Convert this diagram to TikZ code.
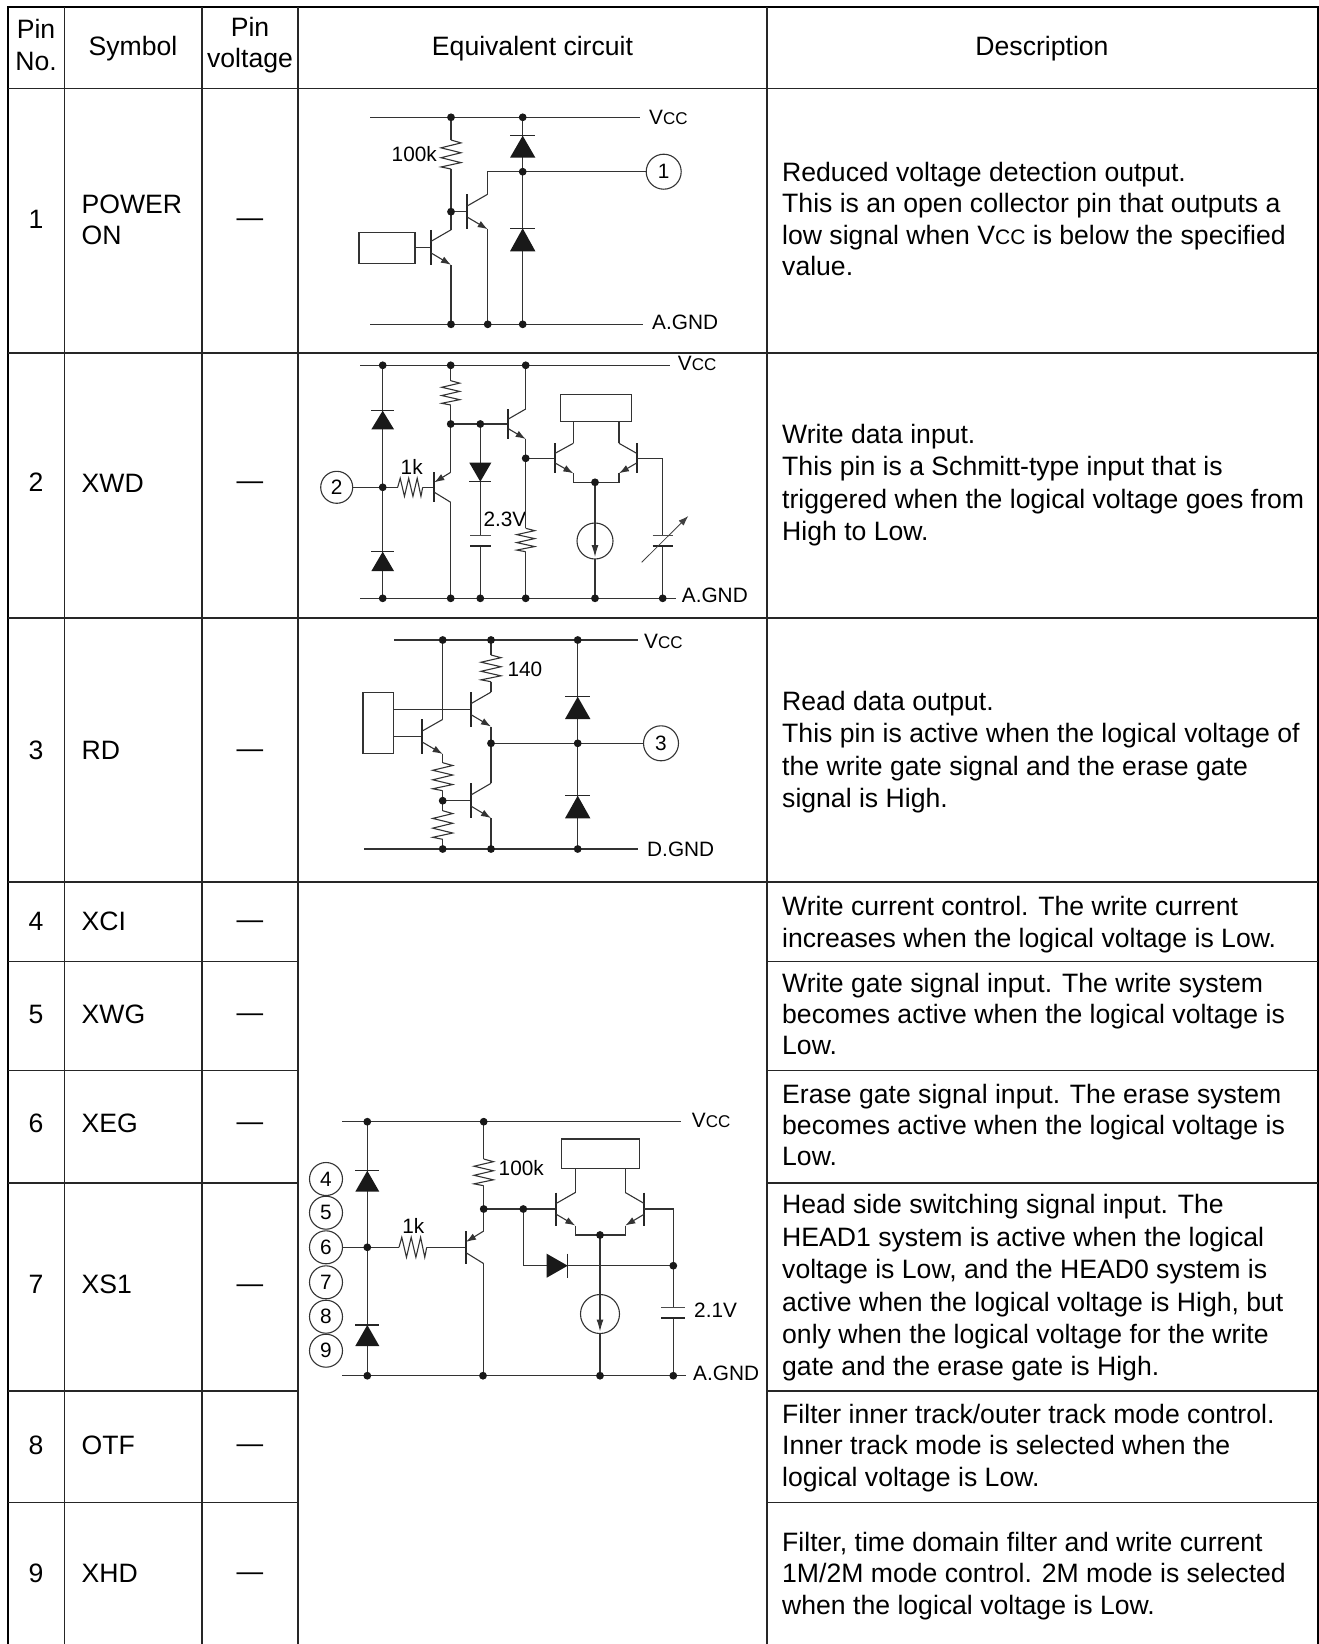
\documentclass[tikz,border=0pt]{standalone}
\usepackage{fontspec}
\setmainfont{Liberation Sans}
\usetikzlibrary{arrows.meta}
\tikzset{
  rule/.style={line width=1.3pt,color=black!85},
  frame/.style={line width=2.6pt,color=black},
  wire/.style={line width=1.1pt,color=black!80},
  txt/.style={inner sep=0pt,font=\fontsize{26.6}{31.4}\selectfont},
  dashcell/.style={txt,yshift=-4pt},
  lbl/.style={inner sep=0pt,anchor=west,font=\fontsize{20.8}{25}\selectfont},
  desc/.style={txt,anchor=west,align=left},
  wide/.style={font=\fontsize{26.6}{32.4}\selectfont},
  pincirc/.style={draw,circle,line width=1.1pt,color=black!80,text=black,inner sep=0pt,minimum size=34pt,font=\fontsize{20.8}{25}\selectfont},
}
\newcommand{\vcc}{V{\fontsize{17}{17}\selectfont CC}}
\newcommand{\vcct}{V{\fontsize{21}{21}\selectfont CC}}
\newcommand{\jn}[2]{\fill[black!90] (#1,#2) circle[radius=3.9];}
% bar x, base y, lead width (signed), half height
\newcommand{\npn}[4]{
\draw[line width=1.8pt,black!85] (#1,{#2-#4}) -- (#1,{#2+#4});
\draw[wire] (#1,{#2-.33*#4}) -- ({#1+#3},{#2-#4});
\draw[wire,-{Latex[length=10pt,width=7pt]}] (#1,{#2+.31*#4}) -- ({#1+#3},{#2+#4});
}
\newcommand{\pnp}[4]{
\draw[line width=1.8pt,black!85] (#1,{#2-#4}) -- (#1,{#2+#4});
\draw[wire,{Latex[length=10pt,width=7pt]}-] (#1,{#2-.33*#4}) -- ({#1+#3},{#2-#4});
\draw[wire] (#1,{#2+.33*#4}) -- ({#1+#3},{#2+#4});
}
% x, y from, y to, half width
\newcommand{\resv}[4]{
\draw[wire] (#1,#2) -- ({#1+#4},{#2+.1*(#3-#2)}) -- ({#1-#4},{#2+.27*(#3-#2)})
  -- ({#1+#4},{#2+.44*(#3-#2)}) -- ({#1-#4},{#2+.61*(#3-#2)})
  -- ({#1+#4},{#2+.78*(#3-#2)}) -- ({#1-#4},{#2+.93*(#3-#2)}) -- (#1,#3);
}
% x from, x to, y, half width
\newcommand{\resh}[4]{
\draw[wire] (#1,#3) -- ({#1+.1*(#2-#1)},{#3-#4}) -- ({#1+.27*(#2-#1)},{#3+#4})
  -- ({#1+.44*(#2-#1)},{#3-#4}) -- ({#1+.61*(#2-#1)},{#3+#4})
  -- ({#1+.78*(#2-#1)},{#3-#4}) -- ({#1+.93*(#2-#1)},{#3+#4}) -- (#2,#3);
}
% x, y of bar, y of base, half width
\newcommand{\diode}[4]{
\fill[black!90] ({#1-#4},#3) -- ({#1+#4},#3) -- (#1,#2) -- cycle;
\draw[line width=1.3pt,black!85] ({#1-#4},#2) -- ({#1+#4},#2);
}
\newcommand{\capac}[4]{
\draw[line width=.8pt,black!70] ({#1-#4},#2) -- ({#1+#4},#2);
\draw[line width=1.8pt,black!85] ({#1-#4},#3) -- ({#1+#4},#3);
}
\newcommand{\isrc}[3]{
\draw[wire] (#1,#2) circle[radius=#3];
\draw[wire,-{Latex[length=12pt,width=7pt]}] (#1,{#2-#3}) -- (#1,{#2+#3-2});
}
\begin{document}
\begin{tikzpicture}[x=1pt,y=-1pt]
\useasboundingbox (0,0) rectangle (1319,1644);
% table rules
\draw[frame] (8,1644) -- (8,7) -- (1318,7) -- (1318,1644);
\draw[rule] (64.5,7) -- (64.5,1644) (202,7) -- (202,1644) (298,7) -- (298,1644) (767,7) -- (767,1644);
\draw[rule] (8,88.5) -- (1318,88.5) (8,353) -- (1318,353) (8,618) -- (1318,618) (8,882) -- (1318,882);
\draw[rule] (8,961.5) -- (298,961.5) (767,961.5) -- (1318,961.5);
\draw[rule] (8,1070.5) -- (298,1070.5) (767,1070.5) -- (1318,1070.5);
\draw[rule] (8,1183) -- (298,1183) (767,1183) -- (1318,1183);
\draw[rule] (8,1391) -- (298,1391) (767,1391) -- (1318,1391);
\draw[rule] (8,1502.5) -- (298,1502.5) (767,1502.5) -- (1318,1502.5);
% header
\node[txt,align=center] (hpin) at (36,45) {Pin\\No.};
\node[txt] (hsym) at (133,49) {Symbol};
\node[txt,align=center] (hvolt) at (250,45) {Pin\\voltage};
\node[txt] (hcirc) at (532.5,49) {Equivalent circuit};
\node[txt] (hdesc) at (1042,49) {Description};
% pin numbers
\node[txt] (pin1) at (36,219) {1};
\node[txt] (pin2) at (36,482) {2};
\node[txt] (pin3) at (36,750) {3};
\node[txt] (pin4) at (36,921) {4};
\node[txt] (pin5) at (36,1014) {5};
\node[txt] (pin6) at (36,1123) {6};
\node[txt] (pin7) at (36,1284.5) {7};
\node[txt] (pin8) at (36,1445) {8};
\node[txt] (pin9) at (36,1573) {9};
% symbols
\node[desc] (sym1) at (81.5,220) {POWER\\ON};
\node[desc] (sym2) at (81.5,483) {XWD};
\node[desc] (sym3) at (81.5,750) {RD};
\node[desc] (sym4) at (81.5,921) {XCI};
\node[desc] (sym5) at (81.5,1014) {XWG};
\node[desc] (sym6) at (81.5,1123) {XEG};
\node[desc] (sym7) at (81.5,1284.5) {XS1};
\node[desc] (sym8) at (81.5,1445) {OTF};
\node[desc] (sym9) at (81.5,1573) {XHD};
% pin voltage
\node[dashcell] (volt1) at (250,219) {—};
\node[dashcell] (volt2) at (250,482) {—};
\node[dashcell] (volt3) at (250,750) {—};
\node[dashcell] (volt4) at (250,921) {—};
\node[dashcell] (volt5) at (250,1014) {—};
\node[dashcell] (volt6) at (250,1123) {—};
\node[dashcell] (volt7) at (250,1284.5) {—};
\node[dashcell] (volt8) at (250,1445) {—};
\node[dashcell] (volt9) at (250,1573) {—};
% descriptions
\node[desc] (desc1) at (782,219) {Reduced voltage detection output.\\This is an open collector pin that outputs a\\low signal when \vcct{} is below the specified\\value.};
\node[desc,wide] (desc2) at (782,485) {Write data input.\\This pin is a Schmitt-type input that is\\triggered when the logical voltage goes from\\High to Low.};
\node[desc,wide] (desc3) at (782,752) {Read data output.\\This pin is active when the logical voltage of\\the write gate signal and the erase gate\\signal is High.};
\node[desc] (desc4) at (782,924.5) {Write current control. The write current\\increases when the logical voltage is Low.};
\node[desc] (desc5) at (782,1014) {Write gate signal input. The write system\\becomes active when the logical voltage is\\Low.};
\node[desc] (desc6) at (782,1125) {Erase gate signal input. The erase system\\becomes active when the logical voltage is\\Low.};
\node[desc,wide] (desc7) at (782,1288) {Head side switching signal input. The\\HEAD1 system is active when the logical\\voltage is Low, and the HEAD0 system is\\active when the logical voltage is High, but\\only when the logical voltage for the write\\gate and the erase gate is High.};
\node[desc] (desc8) at (782,1448) {Filter inner track/outer track mode control.\\Inner track mode is selected when the\\logical voltage is Low.};
\node[desc] (desc9) at (782,1576) {Filter, time domain filter and write current\\1M/2M mode control. 2M mode is selected\\when the logical voltage is Low.};

% circuit pin 1
\node[pincirc,minimum size=35pt] (c1out) at (663.7,171.7) {1};
\node[lbl] (c1vcc) at (649,117) {\vcc};
\node[lbl] (c1gnd) at (652,322) {A.GND};
\node[lbl,anchor=east] (c1r) at (437,154) {100k};
\draw[wire] (370,117.3) -- (640,117.3) (370,324.3) -- (642.7,324.3);
\draw[wire] (359,232.7) rectangle (415,263.3);
\draw[wire] (415,247.3) -- (430.7,247.3);
\draw[wire] (451,117.3) -- (451,140) (451,169) -- (451,230) (451,265) -- (451,324.3);
\resv{451}{140}{169}{10}
\npn{430.7}{247.3}{20.3}{17.5}
\draw[wire] (451,211.7) -- (467.3,211.7);
\npn{467.3}{211.7}{20.4}{17.5}
\draw[wire] (487.7,194.2) -- (487.7,171.7) -- (c1out);
\draw[wire] (487.7,229.2) -- (487.7,324.3);
\draw[wire] (522.7,117.3) -- (522.7,324.3);
\diode{522.7}{135.7}{157.7}{12.7}
\diode{522.7}{228.3}{251.3}{12.7}
\jn{451}{117.3} \jn{522.7}{117.3} \jn{522.7}{171.7} \jn{451}{211.7}
\jn{451}{324.3} \jn{487.7}{324.3} \jn{522.7}{324.3}

% circuit pin 2
\node[pincirc,minimum size=32pt] (c2in) at (336.7,487.3) {2};
\node[lbl] (c2vcc) at (677.7,363) {\vcc};
\node[lbl] (c2gnd) at (681.7,595) {A.GND};
\node[lbl,anchor=center] (c2r) at (411.7,467) {1k};
\node[lbl] (c2v) at (483.3,519) {2.3V};
\draw[wire] (360,365.3) -- (670,365.3) (360,598.3) -- (676,598.3);
\draw[wire] (382.7,365.3) -- (382.7,598.3);
\diode{382.7}{410.7}{429.3}{11.3}
\diode{382.7}{551.7}{571}{11.3}
\draw[wire] (c2in) -- (397.7,487.3) (422.7,487.3) -- (434.3,487.3);
\resh{397.7}{422.7}{487.3}{9}
\pnp{434.3}{487.3}{16.4}{15}
\draw[wire] (450.7,365.3) -- (450.7,380.7) (450.7,405) -- (450.7,472.3) (450.7,502.3) -- (450.7,598.3);
\resv{450.7}{380.7}{405}{9}
\draw[wire] (450.7,424) -- (508.3,424);
\draw[wire] (480.3,424) -- (480.3,535.7) (480.3,545.7) -- (480.3,598.3);
\diode{480.3}{481.7}{462.7}{11}
\capac{480.3}{535.7}{545.7}{10.3}
\npn{508.3}{424}{17.4}{15}
\draw[wire] (525.7,409) -- (525.7,365.3) (525.7,439) -- (525.7,528.3) (525.7,551.7) -- (525.7,598.3);
\resv{525.7}{528.3}{551.7}{9}
\draw[wire] (525.7,458.3) -- (555,458.3);
\draw[wire] (560.7,394.3) rectangle (631.7,421.3);
\npn{555}{458.3}{18.3}{15}
\npn{636.7}{458.3}{-17.7}{15}
\draw[wire] (573.3,443.3) -- (573.3,421.3) (619,443.3) -- (619,421.3);
\draw[wire] (573.3,473.3) -- (573.3,482.3) -- (619,482.3) -- (619,473.3);
\draw[wire] (636.7,458.3) -- (662.7,458.3) -- (662.7,535.7) (662.7,545.7) -- (662.7,598.3);
\capac{662.7}{535.7}{545.7}{10}
\draw[line width=.8pt,black!75,-{Latex[length=10pt,width=7pt]}] (641.7,562.3) -- (688.3,516);
\draw[wire] (595,482.3) -- (595,523) (595,559) -- (595,598.3);
\isrc{595}{541}{18}
\jn{382.7}{365.3} \jn{450.7}{365.3} \jn{525.7}{365.3} \jn{382.7}{487.3}
\jn{450.7}{424} \jn{480.3}{424} \jn{525.7}{458.3} \jn{595}{482.3}
\jn{382.7}{598.3} \jn{450.7}{598.3} \jn{480.3}{598.3} \jn{525.7}{598.3} \jn{595}{598.3} \jn{662.7}{598.3}

% circuit pin 3
\node[pincirc,minimum size=35pt] (c3out) at (661,743.3) {3};
\node[lbl] (c3vcc) at (644,641) {\vcc};
\node[lbl] (c3gnd) at (647,849) {D.GND};
\node[lbl] (c3r) at (507.3,669.3) {140};
\draw[wire] (394,640) -- (637.7,640) (364.3,849) -- (637.7,849);
\draw[wire] (363,692.3) rectangle (393.7,753.3);
\draw[wire] (393.7,709.3) -- (471,709.3) (393.7,736.7) -- (422.3,736.7);
\npn{471}{709.3}{20}{17.2}
\npn{422.3}{736.7}{20.4}{17.3}
\draw[wire] (442.7,640) -- (442.7,719.4) (442.7,754) -- (442.7,762.7) (442.7,790.7) -- (442.7,810.7) (442.7,839.3) -- (442.7,849);
\resv{442.7}{762.7}{790.7}{10}
\resv{442.7}{810.7}{839.3}{10}
\draw[wire] (491,640) -- (491,655) (491,681.7) -- (491,692.1);
\resv{491}{655}{681.7}{10}
\draw[wire] (442.7,800.7) -- (471,800.7);
\npn{471}{800.7}{20}{17.4}
\draw[wire] (491,726.5) -- (491,783.3) (491,818.1) -- (491,849);
\draw[wire] (491,743.3) -- (c3out);
\draw[wire] (577.7,640) -- (577.7,849);
\diode{577.7}{696.7}{719}{12.7}
\diode{577.7}{795.7}{818.3}{12.7}
\jn{442.7}{640} \jn{491}{640} \jn{577.7}{640} \jn{491}{743.3} \jn{577.7}{743.3}
\jn{442.7}{800.7} \jn{442.7}{849} \jn{491}{849} \jn{577.7}{849}

% circuit pins 4 to 9
\node[pincirc,minimum size=33pt] (c4a) at (326,1179) {4};
\node[pincirc,minimum size=33pt] (c4b) at (326,1212.7) {5};
\node[pincirc,minimum size=33pt] (c4c) at (326,1247.3) {6};
\node[pincirc,minimum size=33pt] (c4d) at (326,1282.3) {7};
\node[pincirc,minimum size=33pt] (c4e) at (326,1316.7) {8};
\node[pincirc,minimum size=33pt] (c4f) at (326,1350.7) {9};
\node[lbl] (c4vcc) at (691.7,1120) {\vcc};
\node[lbl] (c4gnd) at (693,1373) {A.GND};
\node[lbl] (c4r) at (498.5,1168.5) {100k};
\node[lbl,anchor=center] (c4rb) at (413.3,1225.7) {1k};
\node[lbl] (c4v) at (694,1310.7) {2.1V};
\draw[wire] (342.3,1121.7) -- (680.7,1121.7) (342.3,1375.7) -- (686,1375.7);
\draw[wire] (367.3,1121.7) -- (367.3,1375.7);
\diode{367.3}{1170.7}{1191.7}{12}
\diode{367.3}{1325}{1346}{12}
\draw[wire] (c4c) -- (399,1247.3) (426.7,1247.3) -- (466,1247.3);
\resh{399}{426.7}{1247.3}{10}
\pnp{466}{1247.3}{17.7}{16.3}
\draw[wire] (483.7,1121.7) -- (483.7,1159) (483.7,1185.7) -- (483.7,1231);
\resv{483.7}{1159}{1185.7}{9.7}
\draw[wire] (483.7,1263.6) -- (483.7,1375.7);
\draw[wire] (483.7,1209) -- (556,1209);
\draw[wire] (561.7,1139) rectangle (639.3,1168.3);
\npn{556}{1209}{19.3}{16.5}
\npn{644.3}{1209}{-19}{16.5}
\draw[wire] (575.3,1192.5) -- (575.3,1168.3) (625.3,1192.5) -- (625.3,1168.3);
\draw[wire] (575.3,1225.5) -- (575.3,1235) -- (625.3,1235) -- (625.3,1225.5);
\draw[wire] (644.3,1209) -- (673.3,1209) -- (673.3,1307.7) (673.3,1318.3) -- (673.3,1375.7);
\capac{673.3}{1307.7}{1318.3}{12}
\draw[wire] (523.3,1209) -- (523.3,1265.7) -- (673.3,1265.7);
\fill[black!90] (546.7,1253.7) -- (546.7,1277.7) -- (567.7,1265.7) -- cycle;
\draw[line width=1.3pt,black!85] (567.7,1253.7) -- (567.7,1277.7);
\draw[wire] (600,1235) -- (600,1294.5) (600,1333.5) -- (600,1375.7);
\isrc{600}{1314}{19.5}
\jn{367.3}{1121.7} \jn{483.7}{1121.7} \jn{367.3}{1247.3} \jn{483.7}{1209} \jn{523.3}{1209}
\jn{600}{1235} \jn{673.3}{1265.7}
\jn{367.3}{1375.7} \jn{483}{1375.7} \jn{600}{1375.7} \jn{673.3}{1375.7}
\end{tikzpicture}
\end{document}
